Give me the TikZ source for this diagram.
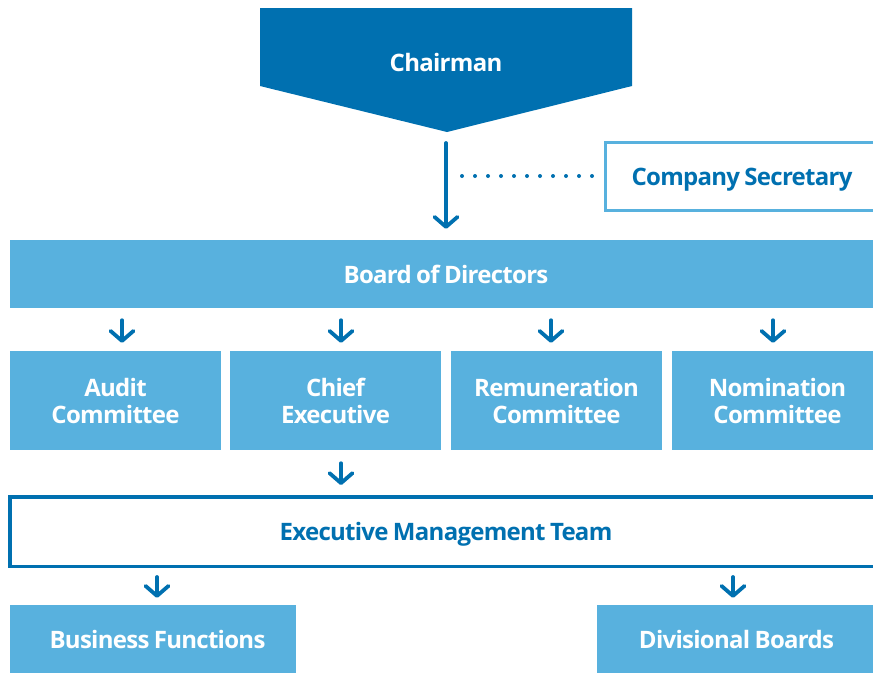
\documentclass[tikz,border=0pt]{standalone}
\usepackage{fontspec}
\setmainfont{Open Sans}[LetterSpace=-3, WordSpace=0.8]
\usetikzlibrary{arrows.meta}
\definecolor{dblue}{HTML}{0070B0}
\definecolor{lblue}{HTML}{58B1DE}
\begin{document}
\begin{tikzpicture}[x=1pt,y=-1pt,
  txt/.style={font=\fontsize{24}{27}\selectfont\bfseries, inner sep=0pt},
  one/.style={txt, text depth=0pt},
  lbox/.style={fill=lblue, text=white, align=center},
  arr/.style={draw=dblue, line width=3.8pt, line cap=round,
    -{Straight Barb[length=10pt,width=23pt,round]}},
  dots/.style={draw=dblue, line width=4pt, line cap=round, dash pattern=on 0pt off 13pt}
]
\useasboundingbox (0,0) rectangle (873,673);
% Chairman
\fill[dblue] (260,8) -- (632,8) -- (632,86) -- (447,132) -- (260,86) -- cycle;
\node[one, text=white] (chair) at (446,62) {Chairman};
\coordinate (apex) at (446,132);
% Company Secretary
\node[one, draw=lblue, line width=3pt, text=dblue, minimum width=273pt, minimum height=68pt] (sec) at (742,176.5) {Company Secretary};
% Board
\node[one, lbox, minimum width=872pt, minimum height=68pt] (board) at (446,274) {Board of Directors};
% Committees
\node[txt, lbox, minimum width=211pt, minimum height=99pt] (aud) at (115.5,400.5) {Audit\\Committee};
\node[txt, lbox, minimum width=211pt, minimum height=99pt] (chief) at (335.5,400.5) {Chief\\Executive};
\node[txt, lbox, minimum width=211pt, minimum height=99pt] (rem) at (556.5,400.5) {Remuneration\\Committee};
\node[txt, lbox, minimum width=211pt, minimum height=99pt] (nom) at (777.5,400.5) {Nomination\\Committee};
% EMT
\node[one, draw=dblue, line width=3.5pt, text=dblue, minimum width=872.5pt, minimum height=69.5pt] (emt) at (446,531.5) {Executive Management Team};
% Bottom
\node[one, lbox, minimum width=286pt, minimum height=68pt] (bf) at (153,639) {\hspace*{9pt}Business Functions};
\node[one, lbox, minimum width=279pt, minimum height=68pt] (db) at (736.5,639) {Divisional Boards};
% connectors
\draw[arr] ([yshift=-11pt]apex) -- ([yshift=11pt]board.north);
\coordinate (dstart) at (462,176);
\draw[dots] (dstart) -- ([xshift=-12pt]sec.west |- dstart);
\draw[arr] ([xshift=6.5pt,yshift=-12pt]board.south -| aud.north) -- ([xshift=6.5pt,yshift=8pt]aud.north);
\draw[arr] ([xshift=5.5pt,yshift=-12pt]board.south -| chief.north) -- ([xshift=5.5pt,yshift=8pt]chief.north);
\draw[arr] ([xshift=-5.5pt,yshift=-12pt]board.south -| rem.north) -- ([xshift=-5.5pt,yshift=8pt]rem.north);
\draw[arr] ([xshift=-4.5pt,yshift=-12pt]board.south -| nom.north) -- ([xshift=-4.5pt,yshift=8pt]nom.north);
\draw[arr] ([xshift=5.5pt,yshift=-13pt]chief.south) -- ([xshift=5.5pt,yshift=10pt]chief.south |- emt.north);
\draw[arr] ([yshift=-9pt]emt.south -| 157,0) -- ([yshift=7pt]bf.north -| 157,0);
\draw[arr] ([yshift=-9pt]emt.south -| 733,0) -- ([yshift=7pt]db.north -| 733,0);
\end{tikzpicture}
\end{document}
